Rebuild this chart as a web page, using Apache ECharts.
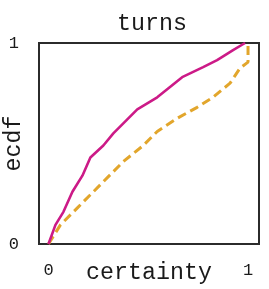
<!DOCTYPE html>
<html><head><meta charset="utf-8">
<script src="https://cdn.jsdelivr.net/npm/echarts@6/dist/echarts.min.js"></script>
<style>html,body{margin:0;padding:0;background:#fff}#c{width:269px;height:289px}</style>
</head><body><div id="c"></div>
<script>
var title = 'turns';
var xName = 'certainty';
var yName = 'ecdf';
var xTicks = [0, 1];
var yTicks = [0, 1];
var solidX = [0, 0.035, 0.075, 0.12, 0.17, 0.21, 0.275, 0.325, 0.375, 0.445, 0.545, 0.67, 0.775, 0.845, 0.925, 0.985];
var solidY = [0, 0.095, 0.16, 0.26, 0.34, 0.43, 0.49, 0.55, 0.60, 0.67, 0.73, 0.83, 0.88, 0.915, 0.965, 1.0];
var dashX = [0, 0.06, 0.145, 0.26, 0.375, 0.475, 0.545, 0.645, 0.745, 0.825, 0.91, 0.96, 1.0, 1.0];
var dashY = [0, 0.095, 0.18, 0.295, 0.41, 0.49, 0.56, 0.625, 0.68, 0.73, 0.80, 0.875, 0.905, 1.0];
function zip(a, b) { return a.map(function (v, i) { return [v, b[i]]; }); }
var font = 'Liberation Mono';
var chart = echarts.init(document.getElementById('c'));
chart.setOption({
  animation: false,
  title: { text: title, left: 112, top: 7,
    textStyle: { fontFamily: font, fontSize: 23.3, fontWeight: 'normal', color: '#1a1a1a' } },
  grid: { left: 39, right: 10, top: 43, bottom: 45, show: true, borderColor: '#2b2b2b', borderWidth: 2,
    containLabel: false, outerBoundsMode: 'none' },
  xAxis: { type: 'value', min: -0.0475, max: 1.055,
    name: xName, nameLocation: 'middle', nameGap: 17, nameMoveOverlap: false,
    nameTextStyle: { fontFamily: font, fontSize: 23.3, color: '#1a1a1a', verticalAlign: 'top' },
    axisLine: { show: false }, axisTick: { show: false }, splitLine: { show: false },
    axisLabel: { customValues: xTicks, fontFamily: font, fontSize: 17, color: '#1a1a1a', margin: 18 } },
  yAxis: { type: 'value', min: 0, max: 1,
    name: yName, nameLocation: 'middle', nameGap: 14, nameRotate: 90, nameMoveOverlap: false,
    nameTextStyle: { fontFamily: font, fontSize: 23.3, color: '#1a1a1a', verticalAlign: 'bottom' },
    axisLine: { show: false }, axisTick: { show: false }, splitLine: { show: false },
    axisLabel: { customValues: yTicks, fontFamily: font, fontSize: 17, color: '#1a1a1a', margin: 20 } },
  series: [
    { type: 'line', data: zip(dashX, dashY), showSymbol: false, symbol: 'none',
      lineStyle: { color: '#e2a62c', width: 3, type: [9, 5] }, z: 2 },
    { type: 'line', data: zip(solidX, solidY), showSymbol: false, symbol: 'none',
      lineStyle: { color: '#cc1a87', width: 2.6 }, z: 3 }
  ]
});
</script></body></html>
